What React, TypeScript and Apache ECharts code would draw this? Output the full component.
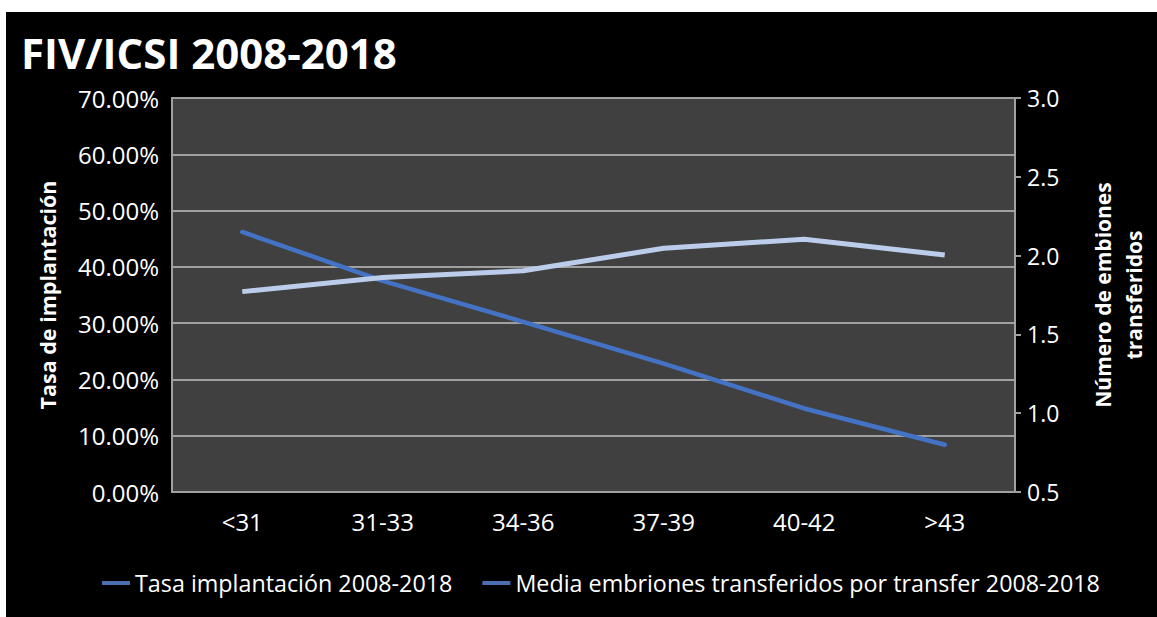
import React, { useEffect, useRef } from 'react';
import * as echarts from 'echarts';

const categories = ['<31', '31-33', '34-36', '37-39', '40-42', '>43'];
const tasaImplantacion = [35.6, 38.1, 39.3, 43.3, 44.9, 42.1];
const mediaEmbriones = [2.15, 1.84, 1.58, 1.315, 1.03, 0.8];

const nameTasa = 'Tasa implantación 2008-2018';
const nameMedia = 'Media embriones transferidos por transfer 2008-2018';

export default function App() {
  const ref = useRef<HTMLDivElement>(null);
  useEffect(() => {
    const chart = echarts.init(ref.current!, null, { renderer: 'svg' });
    const font = "'Open Sans', sans-serif";
    const grid = '#a0a0a0';
    chart.setOption({
      animation: false,
      backgroundColor: '#000',
      textStyle: { fontFamily: font },
      title: {
        text: 'FIV/ICSI 2008-2018',
        left: 15,
        top: 19,
        padding: 0,
        textStyle: { color: '#fff', fontSize: 42, fontWeight: 'bold', fontFamily: font, lineHeight: 43 },
      },
      grid: {
        left: 166,
        top: 86,
        width: 859,
        height: 394,
        show: true,
        backgroundColor: '#404040',
        borderColor: grid,
        borderWidth: 2,
      },
      legend: {
        left: 96,
        top: 557,
        padding: 0,
        itemGap: 30,
        itemWidth: 28,
        itemHeight: 4,
        icon: 'rect',
        textStyle: { color: '#fff', fontSize: 23.3, fontFamily: font, lineHeight: 28 },
        data: [
          { name: nameTasa, itemStyle: { color: '#4a6fb0' } },
          { name: nameMedia, itemStyle: { color: '#4a6fb0' } },
        ],
      },
      xAxis: {
        type: 'category',
        data: categories,
        boundaryGap: true,
        axisLine: { show: true, lineStyle: { color: grid, width: 2 } },
        axisTick: { show: false },
        axisLabel: { color: '#fff', fontSize: 24, margin: 17, fontFamily: font },
        splitLine: { show: false },
      },
      yAxis: [
        {
          type: 'value',
          min: 0,
          max: 70,
          interval: 10,
          position: 'left',
          name: 'Tasa de implantación',
          nameLocation: 'middle',
          nameGap: 114,
          nameRotate: 90,
          nameTextStyle: { color: '#fff', fontSize: 21.5, fontWeight: 'bold', fontFamily: font },
          axisLine: { show: false },
          axisTick: { show: false },
          axisLabel: {
            color: '#fff',
            fontSize: 24,
            margin: 13,
            fontFamily: font,
            formatter: (v: number) => v.toFixed(2) + '%',
          },
          splitLine: { show: true, lineStyle: { color: grid, width: 2 } },
        },
        {
          type: 'value',
          min: 0.5,
          max: 3,
          interval: 0.5,
          position: 'right',
          name: 'Número de embiones\ntransferidos',
          nameLocation: 'middle',
          nameGap: 72,
          nameRotate: 90,
          nameTextStyle: { color: '#fff', fontSize: 21, fontWeight: 'bold', fontFamily: font, lineHeight: 31 },
          axisLine: { show: true, lineStyle: { color: grid, width: 2 } },
          axisTick: { show: true, inside: false, length: 6, lineStyle: { color: grid, width: 2 } },
          axisLabel: {
            color: '#fff',
            fontSize: 23,
            margin: 12,
            fontFamily: font,
            formatter: (v: number) => v.toFixed(1),
          },
          splitLine: { show: false },
        },
      ],
      series: [
        {
          name: nameMedia,
          type: 'line',
          yAxisIndex: 1,
          data: mediaEmbriones,
          symbol: 'none',
          lineStyle: { color: '#4472c4', width: 4.5, cap: 'round' },
          itemStyle: { color: '#4472c4' },
        },
        {
          name: nameTasa,
          type: 'line',
          yAxisIndex: 0,
          data: tasaImplantacion,
          symbol: 'none',
          lineStyle: { color: '#bccdec', width: 5 },
          itemStyle: { color: '#bccdec' },
        },
      ],
    });
    return () => chart.dispose();
  }, []);
  return (
    <div
      ref={ref}
      style={{ position: 'absolute', left: 6, top: 12, width: 1151, height: 605 }}
    />
  );
}
